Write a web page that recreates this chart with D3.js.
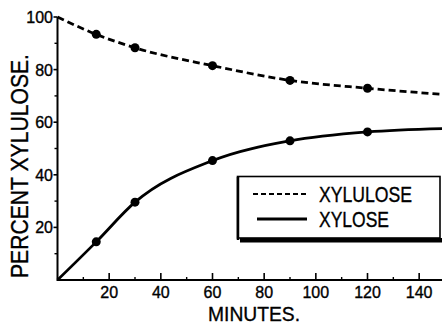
<!DOCTYPE html>
<html>
<head>
<meta charset="utf-8">
<script src="https://cdn.jsdelivr.net/npm/d3@7"></script>
<style>
  body { margin: 0; background: #fff; }
  text { font-family: "Liberation Sans", Arial, sans-serif; fill: #000; stroke: #000; stroke-width: 0.35; }
</style>
</head>
<body>
<div id="chart"></div>
<script>
// data
const minutes = [0, 15, 30, 60, 90, 120, 150];
const xylulose = [100, 93.4, 88.3, 81.5, 75.9, 72.9, 70.5];
const xylose = [0, 14.5, 29.6, 45.4, 52.9, 56.3, 57.6];
const markerIdx = [1, 2, 3, 4, 5]; // measured points (dots)
const xMajor = [20, 40, 60, 80, 100, 120, 140];
const xMinor = [10, 30, 50, 70, 90, 110, 130, 150];
const yMajor = [20, 40, 60, 80, 100];
const yMinor = [10, 30, 50, 70, 90];
const legendItems = ["XYLULOSE", "XYLOSE"];

const width = 442, height = 326;

const svg = d3.select("#chart").append("svg")
  .attr("width", width)
  .attr("height", height);

const x = d3.scaleLinear().domain([0, 150]).range([57.5, 445]);
const y = d3.scaleLinear().domain([0, 100]).range([280, 17]);

// axes
svg.append("line")
  .attr("x1", x(0)).attr("x2", width)
  .attr("y1", y(0)).attr("y2", y(0))
  .attr("stroke", "#000").attr("stroke-width", 2);
svg.append("line")
  .attr("x1", x(0)).attr("x2", x(0))
  .attr("y1", y(0) + 1).attr("y2", y(100))
  .attr("stroke", "#000").attr("stroke-width", 2);

// x ticks point up into the plot
svg.append("g").selectAll("line.maj").data(xMajor).enter().append("line")
  .attr("x1", d => x(d)).attr("x2", d => x(d))
  .attr("y1", y(0)).attr("y2", y(0) - 7)
  .attr("stroke", "#000").attr("stroke-width", 1.6);
svg.append("g").selectAll("line.min").data(xMinor).enter().append("line")
  .attr("x1", d => x(d)).attr("x2", d => x(d))
  .attr("y1", y(0)).attr("y2", y(0) - 3)
  .attr("stroke", "#000").attr("stroke-width", 1.4);
svg.append("g").selectAll("text").data(xMajor).enter().append("text")
  .attr("x", d => x(d))
  .attr("y", 298)
  .attr("text-anchor", "middle")
  .attr("font-size", 16)
  .text(d => d);

// y ticks point left
svg.append("g").selectAll("line.maj").data(yMajor).enter().append("line")
  .attr("x1", x(0)).attr("x2", x(0) - 4)
  .attr("y1", d => y(d)).attr("y2", d => y(d))
  .attr("stroke", "#000").attr("stroke-width", 1.6);
svg.append("g").selectAll("line.min").data(yMinor).enter().append("line")
  .attr("x1", x(0)).attr("x2", x(0) - 3)
  .attr("y1", d => y(d)).attr("y2", d => y(d))
  .attr("stroke", "#000").attr("stroke-width", 1.4);
svg.append("g").selectAll("text").data(yMajor).enter().append("text")
  .attr("x", 53)
  .attr("y", d => y(d) + 6)
  .attr("text-anchor", "end")
  .attr("font-size", 16)
  .text(d => d);

// axis titles
svg.append("text")
  .attr("x", 254).attr("y", 321)
  .attr("text-anchor", "middle")
  .attr("font-size", 21)
  .attr("textLength", 92).attr("lengthAdjust", "spacingAndGlyphs")
  .text("MINUTES.");
svg.append("text")
  .attr("transform", "translate(28,166) rotate(-90)")
  .attr("text-anchor", "middle")
  .attr("font-size", 23)
  .attr("textLength", 224).attr("lengthAdjust", "spacingAndGlyphs")
  .text("PERCENT  XYLULOSE.");

// curves
const plot = svg.append("g");
const line = d3.line()
  .x((d, i) => x(minutes[i]))
  .y(d => y(d))
  .curve(d3.curveMonotoneX);

plot.append("path")
  .attr("d", line(xylulose))
  .attr("fill", "none")
  .attr("stroke", "#000")
  .attr("stroke-width", 2.8)
  .attr("stroke-dasharray", "7,4");
plot.append("path")
  .attr("d", line(xylose))
  .attr("fill", "none")
  .attr("stroke", "#000")
  .attr("stroke-width", 2.8);

[xylulose, xylose].forEach(series => {
  plot.append("g").selectAll("circle").data(markerIdx).enter().append("circle")
    .attr("cx", i => x(minutes[i]))
    .attr("cy", i => y(series[i]))
    .attr("r", 4.5)
    .attr("fill", "#000");
});

// legend box with heavy shadow
const lg = svg.append("g");
lg.append("rect")
  .attr("x", 240).attr("y", 238)
  .attr("width", 202).attr("height", 4.5)
  .attr("fill", "#000");
lg.append("rect")
  .attr("x", 237.5).attr("y", 176.5)
  .attr("width", 202.5).attr("height", 61.5)
  .attr("fill", "#fff")
  .attr("stroke", "#000").attr("stroke-width", 1.6);
lg.append("line")
  .attr("x1", 238).attr("x2", 238)
  .attr("y1", 177).attr("y2", 240)
  .attr("stroke", "#000").attr("stroke-width", 2.5);

legendItems.forEach((name, i) => {
  const yy = 194 + i * 25;
  lg.append("line")
    .attr("x1", i === 0 ? 253 : 257).attr("x2", 307)
    .attr("y1", yy).attr("y2", yy)
    .attr("stroke", "#000")
    .attr("stroke-width", i === 0 ? 2.2 : 2.8)
    .attr("stroke-dasharray", i === 0 ? "5,3" : null);
  lg.append("text")
    .attr("x", 319).attr("y", yy + 8)
    .attr("font-size", 22)
    .attr("textLength", i === 0 ? 93 : 70).attr("lengthAdjust", "spacingAndGlyphs")
    .text(name);
});
</script>
</body>
</html>
